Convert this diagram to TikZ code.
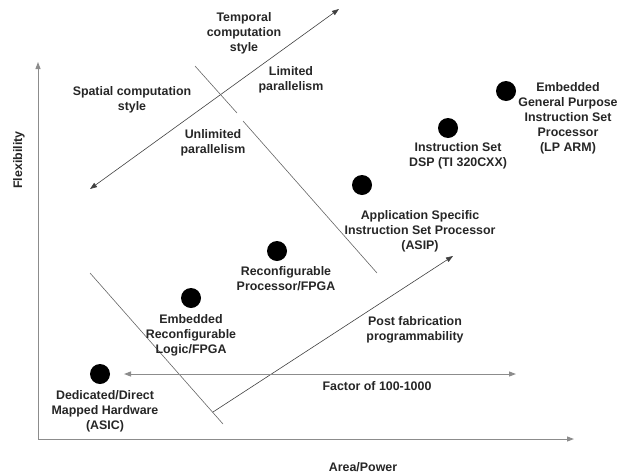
\documentclass[tikz,border=0pt]{standalone}
\usepackage{fontspec}
\setmainfont{Liberation Sans}
\usetikzlibrary{arrows.meta}
\begin{document}
\begin{tikzpicture}[x=1pt,y=-1pt,
  lbl/.style={align=center,font=\fontsize{12.4}{15}\selectfont\bfseries,text=black!85,inner sep=0pt},
  dot/.style={circle,fill=black,minimum size=20pt,inner sep=0pt},
  axis/.style={draw=black!45,line width=1pt,-{Triangle[length=7pt,width=5pt]}},
  thin/.style={draw=black!60,line width=0.6pt},
  tip/.style={-{Triangle[length=7pt,width=5pt]}, draw=black!75,line width=0.6pt}]
\useasboundingbox (0,0) rectangle (620,474);
% axes
\coordinate (O) at (38,439);
\coordinate (Ytop) at (38,62);
\coordinate (Xend) at (574,439);
\draw[axis] (O) -- (Ytop);
\draw[axis] (O) -- (Xend);
\node[lbl,rotate=90] (ylab) at (19,160) {Flexibility};
\node[lbl] (xlab) at (363,467) {Area/Power};
% temporal / spatial arrow
\coordinate (ts1) at (90,189);
\coordinate (ts2) at (339,9);
\draw[tip,{Triangle[length=7pt,width=5pt]}-{Triangle[length=7pt,width=5pt]}] (ts1) -- (ts2);
% dividing lines
\coordinate (d1a) at (195,66);
\coordinate (d1b) at (237,113);
\coordinate (d2a) at (243,121);
\coordinate (d2b) at (377,273);
\coordinate (d3a) at (90,273);
\coordinate (d3b) at (223,424);
\draw[thin] (d1a) -- (d1b);
\draw[thin] (d2a) -- (d2b);
\draw[thin] (d3a) -- (d3b);
% post fabrication arrow
\coordinate (pf1) at (213,412);
\coordinate (pf2) at (453,256);
\draw[tip] (pf1) -- (pf2);
% factor arrow
\coordinate (fa1) at (124,374);
\coordinate (fa2) at (516,374);
\draw[draw=black!45,line width=1pt,{Triangle[length=7pt,width=5pt]}-{Triangle[length=7pt,width=5pt]}] (fa1) -- (fa2);
% design points
\node[dot] (asic) at (100,374) {};
\node[dot] (erl) at (191,298) {};
\node[dot] (rp) at (277,251) {};
\node[dot] (asip) at (362,185) {};
\node[dot] (dsp) at (448,128) {};
\node[dot] (gpp) at (506,91) {};
% labels
\node[lbl] (tcs) at (244,33) {Temporal\\computation\\style};
\node[lbl] (scs) at (132,100) {Spatial computation\\style};
\node[lbl] (lp) at (291,80) {Limited\\parallelism};
\node[lbl] (up) at (213,143) {Unlimited\\parallelism};
\node[lbl] (gppl) at (568,118) {Embedded\\General Purpose\\Instruction Set\\Processor\\(LP ARM)};
\node[lbl] (dspl) at (458,156) {Instruction Set\\DSP (TI 320CXX)};
\node[lbl] (asipl) at (420,231) {Application Specific\\Instruction Set Processor\\(ASIP)};
\node[lbl] (rpl) at (286,279) {Reconfigurable\\Processor/FPGA};
\node[lbl] (erll) at (191,335) {Embedded\\Reconfigurable\\Logic/FPGA};
\node[lbl] (asicl) at (105,411) {Dedicated/Direct\\Mapped Hardware\\(ASIC)};
\node[lbl] (pfl) at (415,330) {Post fabrication\\programmability};
\node[lbl] (fal) at (377,386) {Factor of 100-1000};
\end{tikzpicture}
\end{document}
